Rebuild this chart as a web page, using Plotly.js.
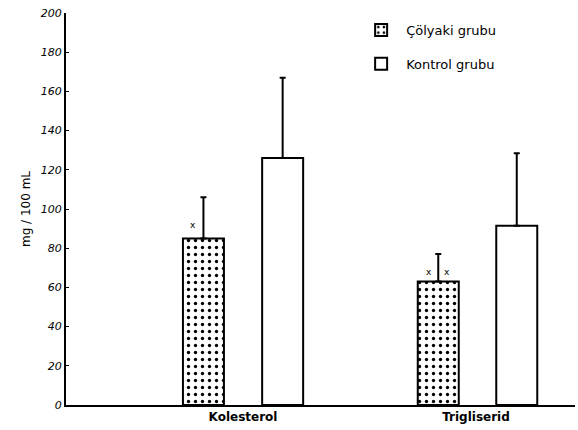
<!DOCTYPE html>
<html>
<head>
<meta charset="utf-8">
<script src="https://cdn.plot.ly/plotly-3.0.1.min.js"></script>
<style>html,body{margin:0;padding:0;background:#fff;}</style>
</head>
<body>
<div id="chart" style="width:578px;height:430px;"></div>
<script>
const categories = ["Kolesterol", "Trigliserid"];
const seriesNames = ["Çölyaki grubu", "Kontrol grubu"];
const colyakiMeans = [85, 63];
const colyakiSD = [21, 14];
const kontrolMeans = [126, 91.5];
const kontrolSD = [41, 37];
const yTicks = [0, 20, 40, 60, 80, 100, 120, 140, 160, 180, 200];
const significance = ["x", "x x"];

const barW = 0.176;
const common = {
  type: "bar",
  x: categories,
  width: [barW, barW],
  marker: {line: {color: "#000", width: 2}},
  error_y: {type: "data", symmetric: false, arrayminus: [0, 0], color: "#000", thickness: 2, width: 3}
};

const t1 = Object.assign({}, common, {
  name: seriesNames[0],
  legendgroup: "g1",
  y: colyakiMeans,
  offset: [-0.258, -0.25],
  marker: {color: "#fff", line: {color: "#000", width: 2},
    pattern: {shape: ".", fgcolor: "#000", bgcolor: "#fff", size: 7, solidity: 0.18}},
  error_y: Object.assign({}, common.error_y, {array: colyakiSD})
});
const t2 = Object.assign({}, common, {
  name: seriesNames[1],
  legendgroup: "g2",
  y: kontrolMeans,
  offset: [0.082, 0.087],
  marker: {color: "#fff", line: {color: "#000", width: 2}},
  error_y: Object.assign({}, common.error_y, {array: kontrolSD})
});

const annFont = {family: "DejaVu Sans", size: 9, color: "#000"};
const annotations = [
  {x: categories[0], y: colyakiMeans[0] + 7, text: significance[0], showarrow: false, xshift: -50, font: annFont},
  {x: categories[1], y: colyakiMeans[1] + 5, text: "x", showarrow: false, xshift: -47, font: annFont},
  {x: categories[1], y: colyakiMeans[1] + 5, text: "x", showarrow: false, xshift: -29, font: annFont}
];

const layout = {
  width: 578, height: 430,
  margin: {l: 66, r: 3, t: 13, b: 25},
  paper_bgcolor: "#fff", plot_bgcolor: "#fff",
  barmode: "overlay",
  showlegend: true,
  legend: {x: 0.57, y: 0.995, xanchor: "left", yanchor: "top",
    font: {family: "DejaVu Sans", size: 13, color: "#000"},
    bgcolor: "rgba(0,0,0,0)", tracegroupgap: 14, itemwidth: 40},
  xaxis: {type: "category", range: [-0.76, 1.425], showline: true, linecolor: "#000", linewidth: 2,
    ticks: "", showgrid: false, zeroline: false,
    tickfont: {family: "DejaVu Sans", size: 12, color: "#000", weight: "bold"}},
  yaxis: {range: [0, 200], tickvals: yTicks, showline: true, linecolor: "#000", linewidth: 2,
    ticks: "inside", ticklen: 3, tickwidth: 1, tickcolor: "#000", showgrid: false, zeroline: false,
    tickfont: {family: "DejaVu Sans", size: 11, color: "#000", style: "italic"},
    title: {text: "mg / 100 mL", font: {family: "DejaVu Sans", size: 12, color: "#000"}, standoff: 8}},
  annotations: annotations
};

Plotly.newPlot("chart", [t1, t2], layout, {displayModeBar: false, staticPlot: true});
</script>
</body>
</html>
